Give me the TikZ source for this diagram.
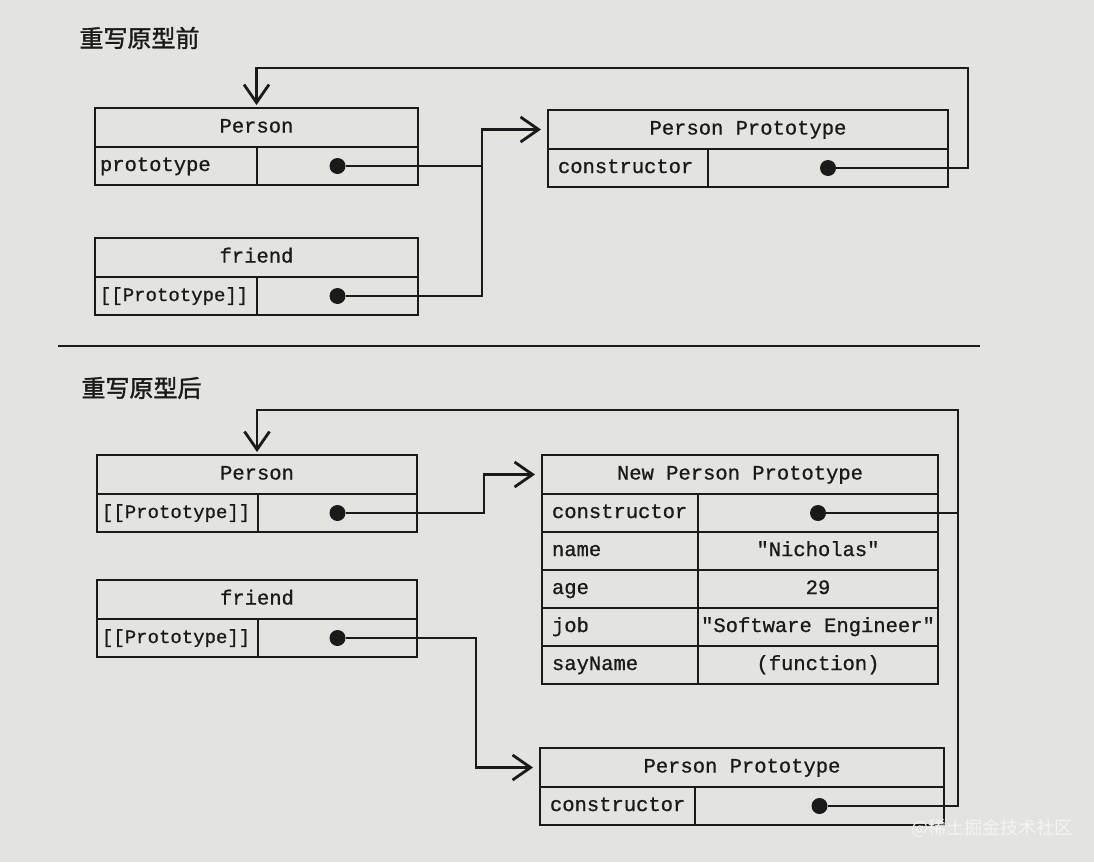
\documentclass[tikz,border=0pt]{standalone}
\usepackage{fontspec}
\setmonofont{Liberation Mono}[FakeBold=0.8]
\newfontfamily\cjk{Noto Sans CJK SC}[FakeBold=1.5]
\newfontfamily\cjklight{Noto Sans CJK SC}
\usepackage{tikz}
\usetikzlibrary{arrows.meta, positioning, calc}
\definecolor{kpaper}{HTML}{E3E3DF}
\definecolor{kink}{HTML}{1A1A1A}
\definecolor{kmark}{HTML}{F4F4F2}
\tikzset{
  cell/.style={draw=kink, line width=2.4pt, outer sep=0pt, inner sep=0pt,
    text height=14pt, text depth=4pt, text=kink,
    font=\ttfamily\fontsize{20.5}{24}\selectfont},
  hdr/.style={cell, minimum width=#1, minimum height=39pt},
  key/.style={cell, minimum height=38pt, inner xsep=5pt, text width=#1, align=left},
  wide/.style={inner xsep=10pt},
  slot/.style={cell, minimum height=38pt, minimum width=#1},
  narrow/.style={inner xsep=3pt, font=\ttfamily\fontsize{19}{22}\selectfont},
  dot/.style={circle, fill=kink, inner sep=0pt, minimum size=16pt},
  wire/.style={draw=kink, line width=2.8pt, line join=miter},
  link/.style={wire, -{Straight Barb[length=18pt, width=25pt, line width=2.8pt]}, shorten >=7pt},
  back/.style={wire, -{Straight Barb[length=18pt, width=25pt, line width=2.8pt]}, shorten >=3pt},
  heading/.style={anchor=west, text=kink, font=\cjk\fontsize{24}{28}\selectfont}
}

\begin{document}
\begin{tikzpicture}[x=1pt, y=-1pt]

  \fill[kpaper] (0,0) rectangle (1094,862);
  \useasboundingbox (0,0) rectangle (1094,862);

  %% before the prototype is rewritten
  \node[heading] (t1) at (76,38) {重写原型前};

  \node[hdr=323pt, anchor=north west] (pH) at (95,108) {Person};
  \node[key=152pt, anchor=north west] (pK) at (pH.south west) {prototype};
  \node[slot=161pt, right=0pt of pK] (pV) {};
  \node[dot] (pD) at (pV) {};

  \node[hdr=323pt, anchor=north west] (fH) at (95,238) {friend};
  \node[key=156pt, narrow, anchor=north west] (fK) at (fH.south west) {\hspace*{2pt}[[Prototype]]};
  \node[slot=161pt, right=0pt of fK] (fV) {};
  \node[dot] (fD) at (fV) {};

  \node[hdr=400pt, anchor=north west] (ppH) at (548,110) {Person Prototype};
  \node[key=140pt, wide, anchor=north west] (ppK) at (ppH.south west) {constructor};
  \node[slot=240pt, right=0pt of ppK] (ppV) {};
  \node[dot] (ppD) at (ppV) {};

  \coordinate (j1) at (482,0);
  \coordinate (r1) at (968,68);
  \draw[wire] (pD) -- (pD -| j1);
  \draw[link] (fD) -| (j1 |- ppH.west) -- (ppH.west);
  \draw[back] (ppD) -| (r1) -| (pH.north);

  \draw[kink, line width=2.8pt] (58,346) -- (980,346);

  %% after the prototype is rewritten
  \node[heading] (t2) at (78,388) {重写原型后};

  \node[hdr=320pt, anchor=north west] (bpH) at (97,455) {Person};
  \node[key=155pt, narrow, anchor=north west] (bpK) at (bpH.south west) {\hspace*{2pt}[[Prototype]]};
  \node[slot=159pt, right=0pt of bpK] (bpV) {};
  \node[dot] (bpD) at (bpV) {};

  \node[hdr=320pt, anchor=north west] (bfH) at (97,580) {friend};
  \node[key=155pt, narrow, anchor=north west] (bfK) at (bfH.south west) {\hspace*{2pt}[[Prototype]]};
  \node[slot=159pt, right=0pt of bfK] (bfV) {};
  \node[dot] (bfD) at (bfV) {};

  \node[hdr=396pt, anchor=north west] (nH) at (542,455) {New Person Prototype};
  \node[key=136pt, wide, anchor=north west] (nK1) at (nH.south west) {constructor};
  \node[slot=240pt, right=0pt of nK1] (nV1) {};
  \node[dot] (nD) at (nV1) {};
  \node[key=136pt, wide, below=0pt of nK1] (nK2) {name};
  \node[slot=240pt, right=0pt of nK2] (nV2) {"Nicholas"};
  \node[key=136pt, wide, below=0pt of nK2] (nK3) {age};
  \node[slot=240pt, right=0pt of nK3] (nV3) {29};
  \node[key=136pt, wide, below=0pt of nK3] (nK4) {job};
  \node[slot=240pt, right=0pt of nK4] (nV4) {"Software Engineer"};
  \node[key=136pt, wide, below=0pt of nK4] (nK5) {sayName};
  \node[slot=240pt, right=0pt of nK5] (nV5) {(function)};

  \node[hdr=404pt, anchor=north west] (bppH) at (540,748) {Person Prototype};
  \node[key=135pt, wide, anchor=north west] (bppK) at (bppH.south west) {constructor};
  \node[slot=249pt, right=0pt of bppK] (bppV) {};
  \node[dot] (bppD) at (bppV) {};

  \coordinate (j2) at (484,0);
  \coordinate (j3) at (476,0);
  \coordinate (r2) at (958,410);
  \draw[link] (bpD) -| (j2 |- nH.west) -- (nH.west);
  \draw[link] (bfD) -| (j3 |- bppH.west) -- (bppH.west);
  \draw[wire] (nD) -- (nD -| r2);
  \draw[back] (bppD) -| (r2) -| (bpH.north);

  %% watermark
  \node[font=\cjklight\fontsize{18}{20}\selectfont, text=kmark, anchor=west] (wm) at (908,828) {@稀土掘金技术社区};

\end{tikzpicture}
\end{document}
